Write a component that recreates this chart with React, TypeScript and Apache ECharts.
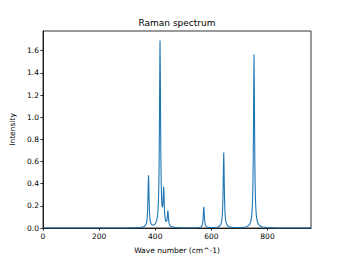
import React, { useEffect, useRef } from "react";
import * as echarts from "echarts";

const chartTitle = "Raman spectrum";
const xAxisName = "Wave number (cm^-1)";
const yAxisName = "Intensity";
const xTickValues = [0, 200, 400, 600, 800];
const yTickValues = [0, 0.2, 0.4, 0.6, 0.8, 1.0, 1.2, 1.4, 1.6];

const waveNumbers = [
  0, 100, 200, 250, 300, 330, 350, 360, 366, 369,
  371, 372, 373, 374, 375, 376, 377, 378, 379, 380,
  381, 383, 386, 390, 395, 400, 405, 408, 410, 411,
  412, 413, 414, 415, 416, 417, 418, 419, 420, 421,
  422, 423, 424, 425, 426, 427, 428, 429, 430, 431,
  432, 433, 434, 436, 438, 440, 441, 442, 443, 444,
  445, 446, 447, 448, 449, 450, 452, 455, 460, 470,
  490, 510, 530, 545, 555, 562, 566, 568, 569, 570,
  571, 572, 573, 574, 575, 576, 577, 578, 580, 584,
  590, 600, 610, 620, 628, 633, 636, 638, 639, 640,
  641, 642, 643, 644, 645, 646, 647, 648, 649, 650,
  652, 655, 660, 668, 680, 695, 710, 722, 730, 736,
  740, 743, 745, 746, 747, 748, 749, 750, 751, 752,
  753, 754, 755, 756, 757, 758, 759, 761, 764, 768,
  774, 782, 800, 830, 870, 920, 955,
];

const intensities = [
  0, 0.0002, 0.0003, 0.0005, 0.0012, 0.0026, 0.006, 0.0125, 0.028, 0.05,
  0.086, 0.121, 0.178, 0.272, 0.4, 0.475, 0.4, 0.272, 0.179, 0.122,
  0.088, 0.054, 0.033, 0.026, 0.027, 0.037, 0.066, 0.109, 0.17, 0.222,
  0.301, 0.425, 0.63, 0.965, 1.423, 1.692, 1.425, 0.97, 0.639, 0.438,
  0.32, 0.248, 0.206, 0.186, 0.184, 0.205, 0.255, 0.331, 0.374, 0.317,
  0.225, 0.157, 0.116, 0.074, 0.058, 0.057, 0.063, 0.077, 0.102, 0.138,
  0.158, 0.135, 0.095, 0.066, 0.048, 0.037, 0.024, 0.016, 0.01, 0.0054,
  0.0028, 0.002, 0.0018, 0.0024, 0.0043, 0.009, 0.02, 0.0345, 0.048, 0.0715,
  0.109, 0.161, 0.191, 0.161, 0.109, 0.0717, 0.048, 0.035, 0.02, 0.0097,
  0.0053, 0.0039, 0.0042, 0.0072, 0.0146, 0.029, 0.053, 0.088, 0.12, 0.169,
  0.252, 0.388, 0.573, 0.681, 0.573, 0.388, 0.253, 0.17, 0.12, 0.088,
  0.053, 0.03, 0.015, 0.0075, 0.0046, 0.004, 0.0055, 0.0096, 0.0174, 0.032,
  0.0556, 0.096, 0.152, 0.2, 0.273, 0.387, 0.577, 0.888, 1.312, 1.565,
  1.312, 0.888, 0.577, 0.387, 0.273, 0.2, 0.152, 0.096, 0.0556, 0.032,
  0.017, 0.009, 0.0036, 0.0014, 0.0006, 0.0003, 0.0002,
];

const FONT = "DejaVu Sans";

export default function App() {
  const ref = useRef<HTMLDivElement>(null);
  useEffect(() => {
    if (!ref.current) return;
    const chart = echarts.init(ref.current, undefined, { renderer: "svg" });
    const data = waveNumbers.map((x, i) => [x, intensities[i]]);
    const isTick = (v: number, list: number[]) =>
      list.some((t) => Math.abs(t - v) < 1e-6);
    chart.setOption({
      animation: false,
      backgroundColor: "#ffffff",
      title: {
        text: chartTitle,
        left: 177,
        top: 18,
        padding: 0,
        textAlign: "center",
        textStyle: { fontFamily: FONT, fontSize: 9, fontWeight: "normal", color: "#000" },
      },
      grid: {
        left: 43,
        right: 34,
        top: 31,
        bottom: 28,
        show: true,
        borderColor: "#000",
        borderWidth: 0.8,
        backgroundColor: "transparent",
      },
      xAxis: {
        type: "value",
        min: 0,
        max: 955,
        interval: 200,
        name: xAxisName,
        nameLocation: "middle",
        nameGap: 18,
        nameTextStyle: { fontFamily: FONT, fontSize: 7.5, color: "#000" },
        axisLine: { show: true, lineStyle: { color: "#000", width: 0.8 } },
        axisTick: { show: true, inside: false, length: 2.6, lineStyle: { color: "#000", width: 0.8 } },
        axisLabel: {
          fontFamily: FONT,
          fontSize: 7.5,
          color: "#000",
          margin: 4,
          showMaxLabel: false,
          formatter: (v: number) => (isTick(v, xTickValues) ? String(v) : ""),
        },
        splitLine: { show: false },
      },
      yAxis: {
        type: "value",
        min: 0,
        max: 1.778,
        interval: 0.2,
        name: yAxisName,
        nameLocation: "middle",
        nameGap: 24,
        nameRotate: 90,
        nameTextStyle: { fontFamily: FONT, fontSize: 7.5, color: "#000" },
        axisLine: { show: true, lineStyle: { color: "#000", width: 0.8 } },
        axisTick: { show: true, inside: false, length: 2.6, lineStyle: { color: "#000", width: 0.8 } },
        axisLabel: {
          fontFamily: FONT,
          fontSize: 7.5,
          color: "#000",
          margin: 4,
          showMaxLabel: false,
          formatter: (v: number) => (isTick(v, yTickValues) ? v.toFixed(1) : ""),
        },
        splitLine: { show: false },
      },
      series: [
        {
          type: "line",
          data,
          showSymbol: false,
          symbol: "none",
          lineStyle: { color: "#1f77b4", width: 1.1 },
          clip: true,
        },
      ],
    });
    return () => chart.dispose();
  }, []);
  return <div ref={ref} style={{ width: 345, height: 259, position: "absolute", left: 0, top: 0 }} />;
}
